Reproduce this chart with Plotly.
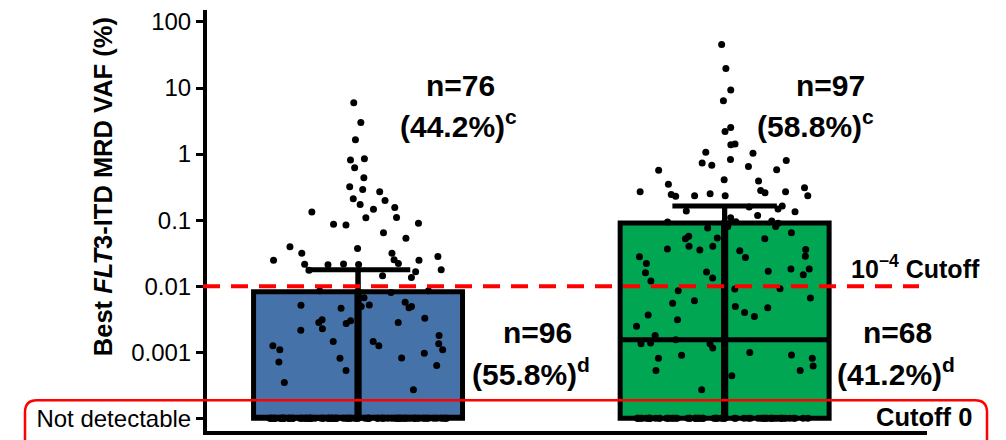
import plotly.graph_objects as go

# ---------------- data ----------------
ND = 1e-4  # value at which "Not detectable" samples are plotted
CUTOFF = 0.01  # 10^-4 cutoff expressed in VAF %

BLUE_DETECTED = [6.0, 3.0, 1.65, 0.85, 0.81, 0.62, 0.44, 0.32, 0.29, 0.27,
                 0.21, 0.156, 0.173, 0.199, 0.133, 0.109, 0.146, 0.110, 0.0895, 0.0845,
                 0.0865, 0.0647, 0.0532, 0.0394, 0.0316, 0.0316, 0.0281, 0.0372, 0.0248, 0.0213,
                 0.0144, 0.0248, 0.0216, 0.0251, 0.0166, 0.0136, 0.0175, 0.0215, 0.0221, 0.0211,
                 0.0085, 0.0085, 0.00570, 0.00671, 0.00514, 0.00463, 0.00474, 0.00282, 0.00299, 0.00491,
                 0.00521, 0.00272, 0.00310, 0.00282, 0.00327, 0.00227, 0.00491, 0.0080, 0.00216, 0.00126,
                 0.00126, 0.00145, 0.00109, 0.00081, 0.00109, 0.00082, 0.0018, 0.00063, 0.00145, 0.00135,
                 0.00097, 0.00053, 0.00071, 0.00035, 0.00027, 0.0177]
BLUE_UNDETECTED_N = 96

GREEN_DETECTED = [45.5, 19.8, 9.36, 6.39, 2.53, 2.20, 1.39, 1.42, 1.07, 0.80,
                  0.83, 0.68, 0.58, 0.39, 0.27, 0.27, 0.28, 0.31, 0.235, 0.26,
                  0.235, 0.35, 0.41, 0.245, 0.235, 0.134, 0.163, 0.137, 0.158, 0.147,
                  0.118, 0.109, 0.097, 0.080, 0.0895, 0.080, 0.094, 0.0947, 0.0647, 0.0762,
                  0.0571, 0.0525, 0.0525, 0.0538, 0.0404, 0.0352, 0.0404, 0.0359, 0.0367, 0.0285,
                  0.0279, 0.0272, 0.0343, 0.0182, 0.0221, 0.0164, 0.0149, 0.00908, 0.00918, 0.0160,
                  0.0133, 0.0120, 0.0182, 0.0169, 0.00857, 0.00665, 0.00605, 0.00470, 0.00491, 0.00551,
                  0.00368, 0.00310, 0.00248, 0.00399, 0.00348, 0.00180, 0.00135, 0.00138, 0.00099, 0.00155,
                  0.00135, 0.00116, 0.00081, 0.00081, 0.00091, 0.00090, 0.00062, 0.00053, 0.00053, 0.00044,
                  0.00027, 1.03, 0.65, 0.73, 0.57, 0.23, 0.25]
GREEN_UNDETECTED_N = 68

TICK_VALS = [100, 10, 1, 0.1, 0.01, 0.001, ND]
TICK_TEXT = ["100", "10", "1", "0.1", "0.01", "0.001", "Not detectable"]

GROUP_POS = [1, 2]
GROUP_COLORS = ["#4672AA", "#00A651"]

# ---------------- geometry (screen pixels; page body has an 8px margin) ----------------
OFF = 8
PL, PR, PT, PB = 207, 927, 8, 431
W, H = 1006 - OFF, 440 - OFF


def pxx(x):
    return (x - PL) / (PR - PL)


def pxy(y):
    return (PB - y) / (PB - PT)


FONT = "Liberation Sans, Arial, sans-serif"

fig = go.Figure()

groups = [
    (BLUE_DETECTED, BLUE_UNDETECTED_N),
    (GREEN_DETECTED, GREEN_UNDETECTED_N),
]

for (det, und), pos, col in zip(groups, GROUP_POS, GROUP_COLORS):
    vals = list(det) + [ND] * und
    fig.add_trace(go.Box(
        y=vals, x0=pos, width=0.57,
        boxpoints="all", jitter=0.85, pointpos=0,
        fillcolor=col,
        line=dict(color="black", width=5),
        whiskerwidth=0.5,
        marker=dict(color="black", size=7, line=dict(width=0)),
        hoverinfo="skip", showlegend=False,
    ))
    # thick central bar through the box (same statistics, very narrow box)
    fig.add_trace(go.Box(
        y=vals, x0=pos, width=0.006,
        boxpoints="outliers", jitter=0, pointpos=0,
        fillcolor="black",
        line=dict(color="black", width=5),
        whiskerwidth=0,
        marker=dict(color="rgba(0,0,0,0)", size=1, opacity=0),
        hoverinfo="skip", showlegend=False,
    ))

# cutoff dashed line
fig.add_shape(type="line", xref="paper", yref="y", x0=pxx(203), x1=pxx(919),
              y0=CUTOFF, y1=CUTOFF, line=dict(color="#FF0000", width=4, dash="17px,11px"),
              layer="above")

# rounded red rectangle around "Not detectable" row
L, R, T, B, r = 25, 987, 400, 448, 12
path = (f"M {pxx(L)},{pxy(B)} L {pxx(L)},{pxy(T + r)} Q {pxx(L)},{pxy(T)} {pxx(L + r)},{pxy(T)} "
        f"L {pxx(R - r)},{pxy(T)} Q {pxx(R)},{pxy(T)} {pxx(R)},{pxy(T + r)} L {pxx(R)},{pxy(B)}")
fig.add_shape(type="path", xref="paper", yref="paper", path=path,
              line=dict(color="#FF0000", width=2.5), layer="above")

# annotations computed from data
annots = []
for (det, und), (xa, xb, xc, xd) in zip(groups, [(460, 458, 537, 531), (830, 815, 897, 896)]):
    tot = len(det) + und
    annots.append((xa, 84, f"<b>n={len(det)}</b>", 30))
    annots.append((xb, 123, f"<b>({100 * len(det) / tot:.1f}%)<sup>c</sup></b>", 30))
    annots.append((xc, 332, f"<b>n={und}</b>", 30))
    annots.append((xd, 372, f"<b>({100 * und / tot:.1f}%)<sup>d</sup></b>", 30))
annots.append((915, 266, "<b>10<sup>\u22124</sup> Cutoff</b>", 25))
annots.append((924, 417, "<b>Cutoff 0</b>", 25.5))

for x, y, t, s in annots:
    fig.add_annotation(x=pxx(x), y=pxy(y), xref="paper", yref="paper", text=t,
                       showarrow=False, xanchor="center", yanchor="middle",
                       font=dict(family=FONT, size=s, color="black"))

# y-axis title
fig.add_annotation(x=pxx(103), y=pxy(186), xref="paper", yref="paper",
                   text="<b>Best <i>FLT</i>3-ITD MRD VAF (%)</b>", textangle=-90,
                   showarrow=False, xanchor="center", yanchor="middle",
                   font=dict(family=FONT, size=25.5, color="black"))

fig.update_layout(
    width=W, height=H, autosize=False,
    margin=dict(l=PL - OFF, r=1006 - PR, t=PT - OFF, b=440 - PB),
    paper_bgcolor="white", plot_bgcolor="white",
    boxmode="overlay",
    font=dict(family=FONT, color="black"),
    xaxis=dict(range=[0.588, 2.552], showgrid=False, zeroline=False, showticklabels=False,
               ticks="", showline=True, linecolor="black", linewidth=4, fixedrange=True),
    yaxis=dict(type="log", range=[-4.1916, 2.1808], showgrid=False, zeroline=False,
               tickvals=TICK_VALS, ticktext=TICK_TEXT, ticks="outside", ticklen=7,
               tickwidth=3, tickcolor="black", showline=True, linecolor="black", linewidth=4,
               ticklabeloverflow="allow",
               tickfont=dict(family=FONT, size=24, color="black"), fixedrange=True),
)

fig.write_html("out.html")
